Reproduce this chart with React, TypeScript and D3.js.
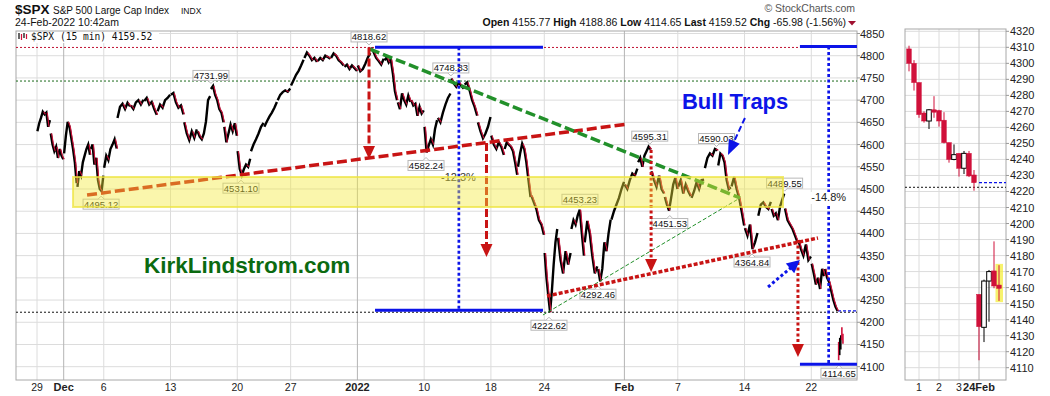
import React from "react";
import * as d3 from "d3";

const FONT = "'Liberation Sans', Arial, Helvetica, sans-serif";

// ---------------- DATA ----------------
// 15-min $SPX path, one list per trading day (day 0 = 29 Nov 2021 ... day 59 = 23 Feb 2022)
const intraday: number[][] = [
  [4630, 4648, 4660, 4674, 4668, 4672, 4640, 4655], // Nov 29
  [4625, 4600, 4585, 4595, 4570, 4590, 4575, 4567], // Nov 30
  [4580, 4620, 4651, 4640, 4615, 4590, 4560, 4513], // Dec 1
  [4505, 4540, 4530, 4560, 4575, 4590, 4600, 4577], // Dec 2
  [4590, 4600, 4555, 4570, 4520, 4500, 4495.12, 4530], // Dec 3
  [4548, 4575, 4565, 4590, 4600, 4612, 4591], // Dec 6
  [4660, 4685, 4692, 4680, 4694, 4686], // Dec 7
  [4688, 4680, 4695, 4700, 4690, 4701], // Dec 8
  [4698, 4705, 4690, 4696, 4680, 4667], // Dec 9
  [4675, 4690, 4683, 4700, 4705, 4712], // Dec 10
  [4712, 4716, 4695, 4683, 4688, 4668], // Dec 13
  [4650, 4625, 4610, 4630, 4615, 4634], // Dec 14
  [4630, 4618, 4612, 4625, 4652, 4700, 4709], // Dec 15
  [4725, 4731.99, 4712, 4700, 4680, 4672, 4650], // Dec 16
  [4640, 4605, 4625, 4645, 4630, 4648, 4620], // Dec 17
  [4585, 4545, 4531.1, 4545, 4555, 4550, 4568], // Dec 20
  [4585, 4600, 4612, 4625, 4640, 4649], // Dec 21
  [4640, 4652, 4663, 4672, 4683, 4696], // Dec 22
  [4700, 4712, 4718, 4722, 4719, 4726], // Dec 23
  [4733, 4745, 4757, 4766, 4778, 4791], // Dec 27
  [4795, 4807, 4800, 4790, 4795, 4786], // Dec 28
  [4788, 4795, 4790, 4800, 4797, 4793], // Dec 29
  [4795, 4805, 4800, 4790, 4785, 4778], // Dec 30
  [4775, 4780, 4770, 4778, 4772, 4766], // Dec 31
  [4778, 4765, 4770, 4782, 4796, 4806], // Jan 3
  [4818.62, 4808, 4795, 4788, 4780, 4793], // Jan 4
  [4790, 4796, 4785, 4792, 4760, 4720, 4700], // Jan 5
  [4695, 4680, 4715, 4700, 4690, 4710, 4696], // Jan 6
  [4700, 4688, 4692, 4665, 4685, 4670, 4677], // Jan 7
  [4640, 4582.24, 4598, 4612, 4600, 4635, 4655], // Jan 10
  [4660, 4650, 4672, 4690, 4705, 4715], // Jan 11
  [4748.83, 4738, 4730, 4740, 4732, 4726], // Jan 12
  [4735, 4740, 4722, 4700, 4685, 4665], // Jan 13
  [4650, 4630, 4614, 4625, 4640, 4662], // Jan 14
  [4620, 4600, 4590, 4605, 4595, 4577], // Jan 18
  [4590, 4605, 4600, 4595, 4585, 4560, 4532], // Jan 19
  [4550, 4580, 4602, 4590, 4560, 4520, 4482], // Jan 20
  [4485, 4470, 4455, 4430, 4420, 4397], // Jan 21
  [4356, 4300, 4260, 4222.62, 4270, 4330, 4380, 4410], // Jan 24
  [4390, 4340, 4310, 4360, 4330, 4356], // Jan 25
  [4410, 4430, 4420, 4440, 4453.23, 4400, 4350], // Jan 26
  [4380, 4428, 4400, 4350, 4310, 4326], // Jan 27
  [4320, 4292.46, 4320, 4380, 4360, 4400, 4431], // Jan 28
  [4431, 4450, 4465, 4480, 4500, 4516], // Jan 31
  [4510, 4500, 4520, 4535, 4530, 4546], // Feb 1
  [4560, 4570, 4550, 4575, 4585, 4595.31, 4589], // Feb 2
  [4540, 4520, 4505, 4530, 4500, 4490], // Feb 3
  [4482, 4465, 4451.53, 4480, 4510, 4525, 4500], // Feb 4
  [4505, 4520, 4490, 4510, 4495, 4484], // Feb 7
  [4480, 4495, 4515, 4500, 4520, 4521], // Feb 8
  [4547, 4570, 4580, 4575, 4590.03, 4587], // Feb 9
  [4553, 4580, 4575, 4560, 4520, 4500, 4504], // Feb 10
  [4506, 4527, 4500, 4480, 4450, 4418], // Feb 11
  [4412, 4395, 4420, 4364.84, 4380, 4401], // Feb 14
  [4440, 4465, 4470, 4460, 4455, 4471], // Feb 15
  [4455, 4440, 4445, 4430, 4460, 4475, 4489.55], // Feb 16
  [4456, 4430, 4420, 4410, 4395, 4380], // Feb 17
  [4385, 4365, 4350, 4375, 4340, 4348], // Feb 18
  [4332, 4310, 4285, 4300, 4275, 4320, 4304], // Feb 22
  [4320, 4300, 4290, 4270, 4250, 4235, 4225.5], // Feb 23
];

// 15-min candles: Feb 23 12:30pm..3:45pm (14) then Feb 24 9:30..10:30am (5)
const candleOpen = [4309, 4300, 4288, 4269, 4264, 4271, 4270.5, 4264.5, 4250.5, 4240, 4243.8, 4234.5, 4243.8, 4230.3, 4155.77, 4135.2, 4164.1, 4170.4, 4161.6];
const candleHigh = [4311, 4302, 4288, 4270, 4271.5, 4279.5, 4271, 4269.5, 4250.5, 4249.4, 4243.8, 4245.3, 4245.3, 4233.4, 4155.8, 4165, 4171, 4188.86, 4174];
const candleLow = [4295, 4283, 4266, 4263, 4259, 4266, 4260.5, 4250, 4238, 4239.5, 4229.3, 4230.9, 4229, 4220.5, 4114.65, 4126, 4138.7, 4159.6, 4151.7];
const candleClose = [4300, 4288, 4268, 4264, 4271, 4269.5, 4264, 4250.5, 4240, 4243, 4234.5, 4243.8, 4229.7, 4225.5, 4135.6, 4164.1, 4170, 4161, 4159.52];
const feb24FirstCandle = 14;

// x-axis ticks (main)
const xTickLabels = ["29", "Dec", "6", "13", "20", "27", "2022", "10", "18", "24", "Feb", "7", "14", "22"];
const xTickDays = [0, 2, 5, 10, 15, 19, 24, 29, 34, 38, 44, 48, 53, 58];
const xTickBold = [false, true, false, false, false, false, true, false, false, false, true, false, false, false];
// x-axis ticks (right panel, candle slots)
const rTickLabels = ["1", "2", "3", "24Feb"];
const rTickSlots = [2, 6, 10, 14];

// price call-outs
const labelValues = [4818.62, 4731.99, 4748.83, 4595.31, 4590.03, 4453.23, 4489.55, 4495.12, 4531.1, 4582.24, 4451.53, 4292.46, 4364.84, 4222.62, 4114.65];
const labelDays = [24.87, 13.03, 31.0, 45.9, 50.9, 40.67, 56.0, 4.8, 15.28, 29.14, 47.4, 42.02, 53.56, 38.35, 60.07];
const labelSides = ["hi", "hi", "hi", "hi", "hi", "hi", "hi", "lo", "lo", "lo", "lo", "lo", "lo", "lo", "lo"];

// annotations (day, price)
const bandDays = [2.7, 55.88];
const bandPrices = [4459.5, 4527];
const redTrendDays = [3.75, 44.27];
const redTrendPrices = [4486.5, 4646.3];
const greenTrendDays = [24.94, 52.66];
const greenTrendPrices = [4815, 4479.8];
const thinGreenDays = [37.9, 52.66];
const thinGreenPrices = [4216.4, 4479.8];
const redDotDays = [38.2, 58.5];
const redDotPrices = [4259.2, 4389.7];
const arrowDays = [24.87, 33.67, 46.0, 57.0];
const arrowFrom = [4818.62, 4603.5, 4587.8, 4385];
const arrowTo = [4567.5, 4347, 4313, 4122];
const arrowDotted = [false, false, true, true];
const rangeStartDays = [25.32, 57.15];
const rangeEndDays = [37.9, 61.42];
const rangeMidDays = [31.6, 59.3];
const rangeHigh = [4819, 4821];
const rangeLow = [4227, 4105.5];
const pctTexts = ["-12.3%", "-14.8%"];
const pctDays = [30.26, 59.3];
const pctPrices = [4518, 4473];
const refHigh = 4818.62;
const refMid = 4743;
const refLow = 4222.62;
const prevClose = 4225.5;

// ---------------- SCALES ----------------
const x = d3.scaleLinear().domain([0, 60]).range([37, 838]);
const y = d3.scaleLinear().domain([4100, 4850]).range([366.7, 33.5]);
const P = { left: 16, right: 857, top: 31, bottom: 380 };
const rx = d3.scaleLinear().domain([0, 18]).range([909, 999]);
const ry = d3.scaleLinear().domain([4110, 4320]).range([367.7, 31.3]);
const R = { left: 905, right: 1006, top: 29, bottom: 380 };

const RED = "#d0103a";
const DRED = "#c81414";
const GREEN = "#22902a";
const BLUE = "#0c14e8";

function head(x1: number, y1: number, x2: number, y2: number, len: number, w: number) {
  const dx = x2 - x1, dy = y2 - y1;
  const L = Math.hypot(dx, dy);
  const ux = dx / L, uy = dy / L;
  const bx = x2 - ux * len, by = y2 - uy * len;
  const px = -uy * w / 2, py = ux * w / 2;
  return `${x2},${y2} ${bx + px},${by + py} ${bx - px},${by - py}`;
}

export default function App() {
  const yTicks = d3.range(4100, 4851, 50);
  const rTicks = d3.range(4110, 4321, 10);
  const line = d3.line();

  const dayPts = intraday.map((vals, d) => {
    const n = vals.length;
    return vals.map((v, i) => [x(d + 0.03 + (0.94 * i) / (n - 1)), y(v)] as [number, number]);
  });

  return (
    <svg width={1050} height={396} style={{ position: "absolute", left: 0, top: 0, background: "#fff" }} fontFamily={FONT}>
      <rect x={0} y={0} width={1050} height={396} fill="#fff" />
      {/* header */}
      <text x={15} y={14} fontSize={13.5} fontWeight="bold" fill="#111">$SPX</text>
      <text x={53} y={14} fontSize={10} fill="#111">S&amp;P 500 Large Cap Index</text>
      <text x={181} y={14} fontSize={8.5} fill="#111">INDX</text>
      <text x={15} y={26} fontSize={10.5} fill="#111">24-Feb-2022 10:42am</text>
      <text x={855} y={12} fontSize={10.5} fill="#555" textAnchor="end">© StockCharts.com</text>
      <text x={846} y={26} fontSize={10.5} fill="#111" textAnchor="end">
        <tspan fontWeight="bold">Open</tspan> 4155.77 <tspan fontWeight="bold">High</tspan> 4188.86{" "}
        <tspan fontWeight="bold">Low</tspan> 4114.65 <tspan fontWeight="bold">Last</tspan> 4159.52{" "}
        <tspan fontWeight="bold">Chg</tspan> -65.98 (-1.56%)
      </text>
      <polygon points="848,21 856,21 852,25.5" fill="#a01030" />

      {/* main panel grid */}
      {yTicks.map((t) => (
        <line key={"gy" + t} x1={P.left} x2={P.right} y1={y(t)} y2={y(t)} stroke="#dcdcdc" strokeWidth={1} />
      ))}
      {xTickDays.map((d, i) => (
        <line key={"gx" + i} x1={x(d)} x2={x(d)} y1={P.top} y2={P.bottom} stroke={xTickBold[i] ? "#b4b4b4" : "#dcdcdc"} strokeWidth={1} />
      ))}
      <rect x={P.left} y={P.top} width={P.right - P.left} height={P.bottom - P.top} fill="none" stroke="#a8a8a8" />
      {yTicks.map((t) => (
        <g key={"yl" + t}>
          <line x1={P.right} x2={P.right + 3} y1={y(t)} y2={y(t)} stroke="#999" />
          <text x={P.right + 3} y={y(t) + 4} fontSize={11} fill="#222">{t}</text>
        </g>
      ))}
      {xTickDays.map((d, i) => (
        <text key={"xl" + i} x={x(d)} y={391} fontSize={xTickBold[i] ? 11 : 10.5} fontWeight={xTickBold[i] ? "bold" : "normal"} textAnchor="middle" fill="#222">
          {xTickLabels[i]}
        </text>
      ))}

      {/* reference dotted lines */}
      <line x1={P.left} x2={P.right} y1={y(refHigh)} y2={y(refHigh)} stroke="#c01030" strokeDasharray="2,2" />
      <line x1={P.left} x2={P.right} y1={y(refMid)} y2={y(refMid)} stroke="#1a6a1a" strokeDasharray="2,2" />
      <line x1={P.left} x2={P.right} y1={y(refLow)} y2={y(refLow)} stroke="#111" strokeDasharray="2,2" />
      <line x1={x(60)} x2={P.right} y1={y(prevClose)} y2={y(prevClose)} stroke={BLUE} strokeDasharray="3,2" strokeWidth={1.3} />

      {/* price path */}
      {dayPts.map((pts, d) => (
        <path key={"p" + d} d={line(pts) || ""} fill="none" stroke="#000" strokeWidth={2.4} strokeLinejoin="miter" />
      ))}
      {dayPts.map((pts, d) =>
        pts.slice(1).map((p, i) =>
          p[1] > pts[i][1] ? (
            <line key={"r" + d + "-" + i} x1={pts[i][0] + 0.9} y1={pts[i][1]} x2={p[0] + 0.9} y2={p[1]} stroke={RED} strokeWidth={1.1} />
          ) : null
        )
      )}
      {candleOpen.slice(feb24FirstCandle).map((o, j) => {
        const k = j + feb24FirstCandle;
        const xx = x(60 + 0.05 + j * 0.08);
        const up = candleClose[k] >= o;
        return <line key={"m24" + j} x1={xx} x2={xx} y1={y(candleHigh[k])} y2={y(candleLow[k])} stroke={up ? "#000" : RED} strokeWidth={1.6} />;
      })}

      {/* price labels */}
      {labelValues.map((v, i) => {
        const px = x(labelDays[i]);
        const py = y(v);
        const w = 36, h = 10;
        const hi = labelSides[i] === "hi";
        const top = hi ? py - 5.5 - h : py + 8;
        const notchY = hi ? top + h : top;
        const notch = hi
          ? `M${px - 3},${notchY} L${px},${notchY + 3} L${px + 3},${notchY}`
          : `M${px - 3},${notchY} L${px},${notchY - 3} L${px + 3},${notchY}`;
        return (
          <g key={"lab" + i}>
            <rect x={px - w / 2} y={top} width={w} height={h} fill="#fff" fillOpacity={0.92} stroke="#b8b8b8" />
            <path d={notch} fill="#fff" stroke="#b8b8b8" />
            <text x={px} y={top + h - 1.5} fontSize={9.5} textAnchor="middle" fill="#111">{v.toFixed(2)}</text>
          </g>
        );
      })}

      {/* blue measured ranges */}
      {rangeStartDays.map((d0, i) => (
        <g key={"rg" + i}>
          <line x1={x(d0)} x2={x(rangeEndDays[i])} y1={y(rangeHigh[i])} y2={y(rangeHigh[i])} stroke={BLUE} strokeWidth={3} />
          <line x1={x(d0)} x2={x(rangeEndDays[i])} y1={y(rangeLow[i])} y2={y(rangeLow[i])} stroke={BLUE} strokeWidth={3} />
          <line x1={x(rangeMidDays[i])} x2={x(rangeMidDays[i])} y1={y(rangeHigh[i])} y2={y(rangeLow[i])} stroke={BLUE} strokeWidth={2.7} strokeDasharray="3,2.5" />
        </g>
      ))}

      {/* trend lines */}
      <line x1={x(redTrendDays[0])} y1={y(redTrendPrices[0])} x2={x(redTrendDays[1])} y2={y(redTrendPrices[1])} stroke={DRED} strokeWidth={3.5} strokeDasharray="10,4" />
      <line x1={x(greenTrendDays[0])} y1={y(greenTrendPrices[0])} x2={x(greenTrendDays[1])} y2={y(greenTrendPrices[1])} stroke={GREEN} strokeWidth={3.5} strokeDasharray="10,4" />
      <line x1={x(thinGreenDays[0])} y1={y(thinGreenPrices[0])} x2={x(thinGreenDays[1])} y2={y(thinGreenPrices[1])} stroke={GREEN} strokeWidth={1} strokeDasharray="4,2" />
      <line x1={x(redDotDays[0])} y1={y(redDotPrices[0])} x2={x(redDotDays[1])} y2={y(redDotPrices[1])} stroke={DRED} strokeWidth={3.5} strokeDasharray="4,2" />

      {/* red measured-move arrows */}
      {arrowDays.map((d, i) => {
        const xx = x(d);
        const y1 = y(arrowFrom[i]);
        const y2 = y(arrowTo[i]);
        return (
          <g key={"ar" + i}>
            <line x1={xx} x2={xx} y1={y1} y2={y2 - 10} stroke={DRED} strokeWidth={3} strokeDasharray={arrowDotted[i] ? "3,2.5" : "8,3"} />
            <polygon points={head(xx, y1, xx, y2, 13, 12)} fill={DRED} />
          </g>
        );
      })}

      {/* blue dotted arrow */}
      {(() => {
        const x1 = x(54.76), y1 = y(4279.4), x2 = x(57.15), y2 = y(4340.2);
        return (
          <g>
            <line x1={x1} y1={y1} x2={x2 - 7} y2={y2 + 6} stroke={BLUE} strokeWidth={3} strokeDasharray="3,2.5" />
            <polygon points={head(x1, y1, x2, y2, 13, 13)} fill={BLUE} />
          </g>
        );
      })()}
      {/* blue dashed arrow (bull traps) */}
      {(() => {
        const x1 = x(53.03), y1 = y(4659.8), x2 = x(51.76), y2 = y(4576.5);
        return (
          <g>
            <line x1={x1} y1={y1} x2={x2 + 4} y2={y2 - 9} stroke={BLUE} strokeWidth={2} strokeDasharray="6,3" />
            <polygon points={head(x1, y1, x2, y2, 15, 12)} fill={BLUE} />
          </g>
        );
      })()}

      <text x={x(pctDays[0])} y={y(pctPrices[0])} fontSize={11} fill="#333">{pctTexts[0]}</text>

      {/* yellow support band (translucent, on top) */}
      <rect x={x(bandDays[0])} y={y(bandPrices[1])} width={x(bandDays[1]) - x(bandDays[0])} height={y(bandPrices[0]) - y(bandPrices[1])}
        fill="#f2ea3a" fillOpacity={0.42} stroke="#eee440" strokeOpacity={0.75} strokeWidth={2} />

      {/* -14.8% */}
      <rect x={x(pctDays[1]) - 19} y={y(pctPrices[1]) - 9} width={38} height={12} fill="#fff" />
      <text x={x(pctDays[1])} y={y(pctPrices[1])} fontSize={11} fill="#222" textAnchor="middle">{pctTexts[1]}</text>

      <text x={x(48.31)} y={y(4680)} fontSize={22} fontWeight="bold" fill={BLUE}>Bull Traps</text>
      <text x={x(8.01)} y={y(4311)} fontSize={22.5} fontWeight="bold" fill="#0b6a10">KirkLindstrom.com</text>

      {/* legend inside panel */}
      <rect x={P.left + 1} y={P.top + 1} width={142} height={11} fill="#fff" />
      <line x1={19} x2={19} y1={33} y2={39} stroke="#000" strokeWidth={1.2} />
      <line x1={21.5} x2={21.5} y1={34} y2={40} stroke={RED} strokeWidth={1.2} />
      <line x1={24} x2={24} y1={33} y2={38} stroke="#000" strokeWidth={1.2} />
      <line x1={26.5} x2={26.5} y1={34} y2={39} stroke={RED} strokeWidth={1.2} />
      <text x={31} y={40} fontSize={9.6} fontFamily="'DejaVu Sans Mono', 'Liberation Mono', monospace" fill="#111">$SPX (15 min) 4159.52</text>

      {/* right panel */}
      {rTicks.map((t) => (
        <line key={"rgy" + t} x1={R.left} x2={R.right} y1={ry(t)} y2={ry(t)} stroke="#dcdcdc" />
      ))}
      {rTickSlots.map((s, i) => (
        <line key={"rgx" + i} x1={rx(s)} x2={rx(s)} y1={R.top} y2={R.bottom} stroke={i === 3 ? "#b4b4b4" : "#dcdcdc"} />
      ))}
      <rect x={R.left} y={R.top} width={R.right - R.left} height={R.bottom - R.top} fill="none" stroke="#a8a8a8" />
      {rTicks.map((t) => (
        <g key={"ryl" + t}>
          <line x1={R.right} x2={R.right + 3} y1={ry(t)} y2={ry(t)} stroke="#999" />
          <text x={R.right + 4} y={ry(t) + 4} fontSize={11} fill="#222">{t}</text>
        </g>
      ))}
      {rTickSlots.map((s, i) => (
        <text key={"rxl" + i} x={rx(s)} y={391} fontSize={i === 3 ? 11 : 10.5} fontWeight={i === 3 ? "bold" : "normal"} textAnchor="middle" fill="#222">
          {rTickLabels[i]}
        </text>
      ))}
      <line x1={R.left} x2={R.right} y1={ry(refLow)} y2={ry(refLow)} stroke="#111" strokeDasharray="2,2" />
      <line x1={rx(feb24FirstCandle)} x2={R.right} y1={ry(prevClose)} y2={ry(prevClose)} stroke={BLUE} strokeDasharray="3,2" strokeWidth={1.3} />
      <rect x={rx(18) - 3.5} y={ry(4174.8)} width={7.5} height={ry(4150.9) - ry(4174.8)} fill="#f4ee3c" fillOpacity={0.75} />
      {candleOpen.map((o, k) => {
        const c = candleClose[k];
        const up = c >= o;
        const cx = rx(k);
        const top = ry(Math.max(o, c));
        const bot = ry(Math.min(o, c));
        return (
          <g key={"c" + k}>
            <line x1={cx} x2={cx} y1={ry(candleHigh[k])} y2={ry(candleLow[k])} stroke={up ? "#000" : RED} strokeWidth={1} />
            <rect x={cx - 2.3} y={top} width={4.6} height={Math.max(1, bot - top)} fill={up ? "#fff" : RED} stroke={up ? "#000" : RED} strokeWidth={up ? 1 : 0.5} />
          </g>
        );
      })}
    </svg>
  );
}
